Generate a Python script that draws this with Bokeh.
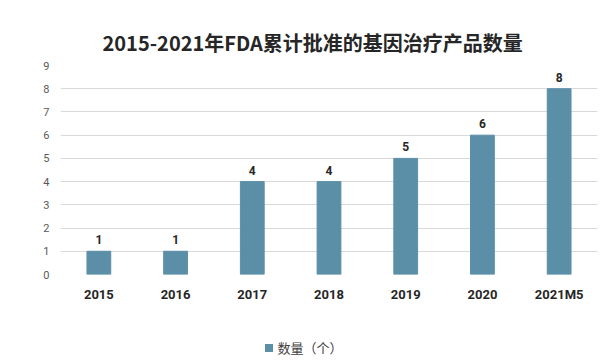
from bokeh.plotting import figure
from bokeh.models import ColumnDataSource, FixedTicker, Range1d, LabelSet, Div
from bokeh.layouts import column
from bokeh.core.properties import value
from bokeh.embed import file_html
from bokeh.resources import INLINE

categories = ["2015", "2016", "2017", "2018", "2019", "2020", "2021M5"]
values = [1, 1, 4, 4, 5, 6, 8]
y_ticks = [0, 1, 2, 3, 4, 5, 6, 7, 8, 9]
title_text = "2015-2021年FDA累计批准的基因治疗产品数量"
series_name = "数量（个）"

FONT = "Noto Sans CJK SC"
NUM_FONT = "Roboto"
BAR = "#5b8fa8"

src = ColumnDataSource(dict(cat=categories, val=values, lab=[str(v) for v in values]))

p = figure(x_range=categories, y_range=Range1d(0, 9),
           frame_width=537, frame_height=209,
           output_backend="svg", toolbar_location=None,
           min_border_left=60, min_border_right=1, min_border_top=65, min_border_bottom=56)

p.title.text = title_text
p.title.align = "left"
p.title.text_font = FONT
p.title.text_font_size = "20px"
p.title.text_font_style = "bold"
p.title.text_color = "#262626"
p.title.offset = 42
p.title.standoff = 17

r = p.vbar(x="cat", top="val", width=0.31, source=src, color=BAR)

labels = LabelSet(x="cat", y="val", text="lab", source=src, text_align="center",
                  y_offset=7, text_font=value(NUM_FONT), text_font_size=value("12px"),
                  text_font_style="bold", text_color="#262626")
p.add_layout(labels)

p.outline_line_color = None
p.xgrid.grid_line_color = None
p.ygrid.grid_line_color = "#d9d9d9"
p.ygrid.grid_line_width = 1

p.yaxis.ticker = FixedTicker(ticks=y_ticks)
p.yaxis.axis_line_color = None
p.yaxis.major_tick_line_color = None
p.yaxis.minor_tick_line_color = None
p.yaxis.major_label_text_font = NUM_FONT
p.yaxis.major_label_text_font_size = "11px"
p.yaxis.major_label_text_color = "#595959"
p.yaxis.major_label_standoff = 5

p.xaxis.axis_line_color = None
p.xaxis.major_tick_line_color = None
p.xaxis.major_label_text_font = NUM_FONT
p.xaxis.major_label_text_font_size = "13px"
p.xaxis.major_label_text_font_style = "bold"
p.xaxis.major_label_text_color = "#262626"
p.xaxis.major_label_standoff = 6

p.x_range.range_padding = 0

legend_div = Div(
    text=('<span style="display:inline-block;width:8px;height:8px;'
          f'background:{BAR};margin-right:4px;vertical-align:middle;"></span>'
          f'<span style="vertical-align:middle;">{series_name}</span>'),
    width=598, height=24,
    styles={"text-align": "center", "font-family": FONT, "font-size": "13px",
            "color": "#404040", "line-height": "24px"})

layout = column(p, legend_div, spacing=0)

open("out.html", "w").write(file_html(layout, INLINE))
